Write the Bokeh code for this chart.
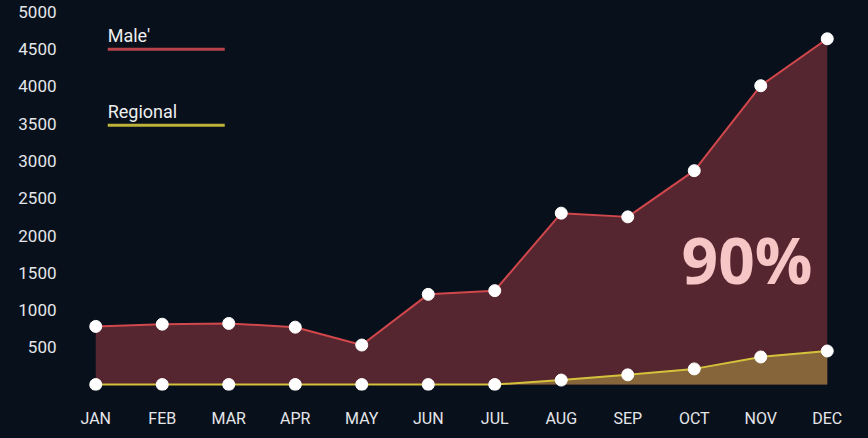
from bokeh.plotting import figure
from bokeh.models import Range1d, FixedTicker, Label, ColumnDataSource
from bokeh.embed import file_html
from bokeh.resources import INLINE

months = ["JAN", "FEB", "MAR", "APR", "MAY", "JUN", "JUL", "AUG", "SEP", "OCT", "NOV", "DEC"]
male = [780, 810, 820, 770, 530, 1210, 1260, 2300, 2250, 2870, 4010, 4640]
regional = [0, 0, 0, 0, 0, 0, 0, 60, 130, 210, 370, 450]
y_ticks = [500, 1000, 1500, 2000, 2500, 3000, 3500, 4000, 4500, 5000]
x = list(range(len(months)))

BG = "#08101b"
p = figure(width=860, height=430, output_backend="svg", toolbar_location=None,
           x_range=Range1d(-0.5, 11.5), y_range=Range1d(-80, 5100),
           min_border_left=62, min_border_right=0, min_border_top=4, min_border_bottom=36,
           background_fill_color=None, border_fill_color=None)
p.outline_line_color = None
p.grid.visible = False

src = ColumnDataSource(dict(x=x, male=male, regional=regional, zero=[0] * len(x)))
p.varea(x="x", y1="zero", y2="male", source=src, fill_color="#55262f", fill_alpha=1)
p.varea(x="x", y1="zero", y2="regional", source=src, fill_color="#87653a", fill_alpha=1)
p.line(x="x", y="male", source=src, line_color="#d0474c", line_width=2)
p.line(x="x", y="regional", source=src, line_color="#d4c23c", line_width=2)
p.scatter(x="x", y="male", source=src, size=12, fill_color="white", line_color="white")
p.scatter(x="x", y="regional", source=src, size=12, fill_color="white", line_color="white")

# axes
p.yaxis.ticker = FixedTicker(ticks=y_ticks)
p.xaxis.ticker = FixedTicker(ticks=x)
p.xaxis.major_label_overrides = {i: m for i, m in enumerate(months)}
p.axis.axis_line_color = None
p.axis.major_tick_line_color = None
p.axis.minor_tick_line_color = None
p.axis.major_tick_out = 0
p.axis.minor_tick_out = 0
p.axis.major_label_text_color = "#e4e6ea"
p.axis.major_label_text_font = "Roboto"
p.yaxis.major_label_text_font_size = "17px"
p.yaxis.major_label_standoff = 6
p.xaxis.major_label_text_font_size = "16px"
p.xaxis.major_label_standoff = 18

# legend (label above line)
legend_items = [("Male'", "#b8434a", 4500), ("Regional", "#bdb23a", 3480)]
for name, col, ly in legend_items:
    p.segment(x0=[0.18], y0=[ly], x1=[1.94], y1=[ly], line_color=col, line_width=3)
    p.add_layout(Label(x=0.18, y=ly + 40, text=name, text_color="#eeeeee",
                       text_font="Roboto", text_font_size="18px"))

p.add_layout(Label(x=8.81, y=1092, text="90%", text_color="#f6c6c6",
                   text_font="Open Sans", text_font_style="bold", text_font_size="64px"))

html = file_html(p, INLINE)
html = html.replace("<body>", '<body style="background:%s">' % BG, 1)
html = html.replace("</head>", "<style>html,body{background:%s !important;}</style></head>" % BG, 1)
open("out.html", "w").write(html)
